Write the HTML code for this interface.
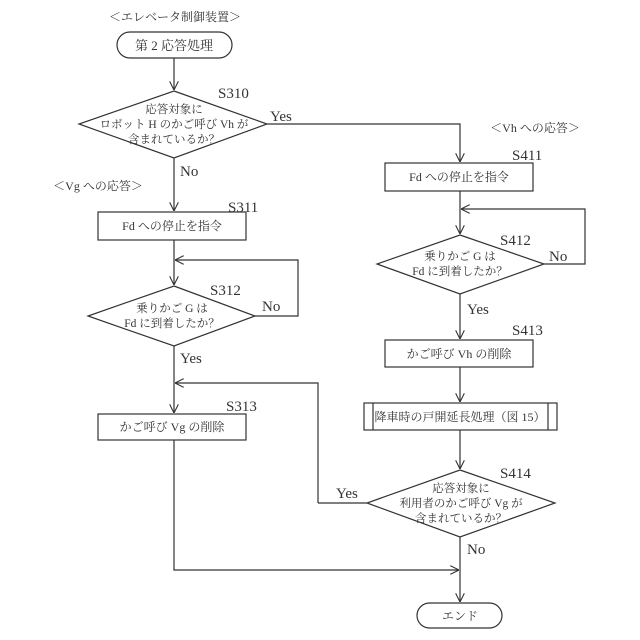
<!DOCTYPE html>
<html><head><meta charset="utf-8"><style>body{margin:0;background:#fff}svg{display:block}</style></head><body>
<svg width="640" height="640" viewBox="0 0 640 640" xmlns="http://www.w3.org/2000/svg" font-family="'Liberation Serif','Noto Serif CJK SC',serif" fill="none" stroke="#333" stroke-width="1.2">
<defs><marker id="a" viewBox="0 0 10 10" refX="10" refY="5" markerWidth="9" markerHeight="9" orient="auto" markerUnits="userSpaceOnUse"><path d="M0,0 L10,5 L0,10" fill="none" stroke="#333" stroke-width="1.2"/></marker></defs>
<g fill="#333" stroke="none" font-size="12" text-anchor="middle">
<text x="175" y="21">＜エレベータ制御装置＞</text>
<text x="98" y="190">＜Vg への応答＞</text>
<text x="535" y="132">＜Vh への応答＞</text>
</g>
<!-- start -->
<rect x="117" y="32" width="115" height="26" rx="13"/>
<text x="174" y="50" fill="#333" stroke="none" font-size="13" text-anchor="middle">第 2 応答処理</text>
<path d="M174 58 V90" marker-end="url(#a)"/>
<!-- S310 -->
<polygon points="174,91 267,124 174,158 79,124"/>
<g fill="#333" stroke="none" font-size="11.5" text-anchor="middle"><text x="174" y="113">応答対象に</text><text x="174" y="128">ロボット H のかご呼び Vh が</text><text x="174" y="143">含まれているか？</text></g>
<path d="M267 124 H460 V162" marker-end="url(#a)"/>
<path d="M174 158 V211" marker-end="url(#a)"/>
<!-- S311 -->
<rect x="98" y="212" width="148" height="28"/>
<text x="172" y="230" fill="#333" stroke="none" font-size="12" text-anchor="middle">Fd への停止を指令</text>
<path d="M174 240 V285" marker-end="url(#a)"/>
<path d="M255 316 H298 V260 H175" marker-end="url(#a)"/>
<!-- S312 -->
<polygon points="174,286 255,316 174,346 88,316"/>
<g fill="#333" stroke="none" font-size="11.5" text-anchor="middle"><text x="172" y="312">乗りかご G は</text><text x="172" y="327">Fd に到着したか？</text></g>
<path d="M174 346 V413" marker-end="url(#a)"/>
<path d="M318 503 H367 M318 503 V383 H175" marker-end="url(#a)"/>
<!-- S313 -->
<rect x="98" y="414" width="148" height="26"/>
<text x="172" y="431" fill="#333" stroke="none" font-size="12" text-anchor="middle">かご呼び Vg の削除</text>
<path d="M174 440 V570 H459" marker-end="url(#a)"/>
<!-- right -->
<rect x="385" y="163" width="148" height="28"/>
<text x="459" y="181" fill="#333" stroke="none" font-size="12" text-anchor="middle">Fd への停止を指令</text>
<path d="M460 191 V234" marker-end="url(#a)"/>
<path d="M544 264 H585 V209 H461" marker-end="url(#a)"/>
<polygon points="460,235 544,264 460,294 377,264"/>
<g fill="#333" stroke="none" font-size="11.5" text-anchor="middle"><text x="460" y="260">乗りかご G は</text><text x="460" y="275">Fd に到着したか？</text></g>
<path d="M460 294 V339" marker-end="url(#a)"/>
<rect x="385" y="340" width="148" height="27"/>
<text x="459" y="358" fill="#333" stroke="none" font-size="12" text-anchor="middle">かご呼び Vh の削除</text>
<path d="M460 367 V402" marker-end="url(#a)"/>
<rect x="364" y="403" width="193" height="27"/>
<path d="M373 403 V430 M548 403 V430"/>
<text x="460" y="421" fill="#333" stroke="none" font-size="12" text-anchor="middle">降車時の戸開延長処理（図 15）</text>
<path d="M460 430 V469" marker-end="url(#a)"/>
<polygon points="460,470 555,503 460,537 367,503"/>
<g fill="#333" stroke="none" font-size="11.5" text-anchor="middle"><text x="461" y="492">応答対象に</text><text x="461" y="507">利用者のかご呼び Vg が</text><text x="461" y="522">含まれているか？</text></g>
<path d="M460 537 V602" marker-end="url(#a)"/>
<rect x="417" y="603" width="85" height="25" rx="12.5"/>
<text x="460" y="620" fill="#333" stroke="none" font-size="12" text-anchor="middle">エンド</text>
<!-- labels -->
<g fill="#333" stroke="none" font-size="15">
<text x="218" y="98">S310</text><text x="270" y="121">Yes</text><text x="180" y="176">No</text>
<text x="228" y="212">S311</text><text x="210" y="295">S312</text><text x="262" y="311">No</text><text x="180" y="363">Yes</text>
<text x="226" y="411">S313</text>
<text x="512" y="160">S411</text><text x="500" y="245">S412</text><text x="549" y="261">No</text><text x="467" y="314">Yes</text>
<text x="512" y="335">S413</text><text x="500" y="478">S414</text><text x="336" y="498">Yes</text><text x="467" y="554">No</text>
</g>
</svg>
</body></html>
